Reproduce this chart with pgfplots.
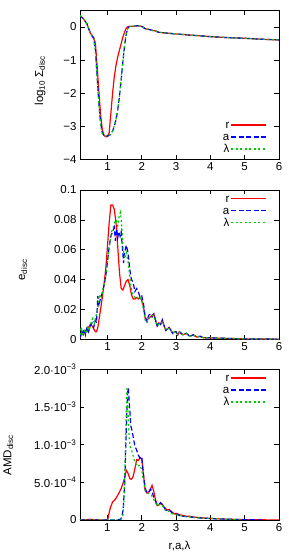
\documentclass[border=0pt]{standalone}
\usepackage{fontspec}
\setmainfont{Liberation Sans}
\usepackage{pgfplots}
\pgfplotsset{compat=1.18}
\definecolor{cr}{RGB}{255,0,0}
\definecolor{cb}{RGB}{0,0,255}
\definecolor{cg}{RGB}{0,205,0}
\pgfplotsset{
  myax/.style={
    scale only axis, width=199pt, xmin=0.2, xmax=6, xtick={1,2,3,4,5,6},
    tick align=inside, major tick length=4.5pt,
    axis line style={line width=0.6pt},
    every tick/.style={black, line width=0.6pt},
    tick label style={font=\fontsize{11.5}{13}\selectfont},
    label style={font=\fontsize{11.5}{13}\selectfont},
    /pgf/number format/assume math mode=true,
    legend style={draw=none, fill=none, font=\fontsize{11.5}{13}\selectfont,
      legend cell align=right, row sep=0pt, inner sep=1pt,
      nodes={text height=8.5pt, text depth=1.5pt, inner sep=1pt}},
    legend plot pos=right,
    legend image post style={xscale=2.05, line width=1.5pt},
  },
}
\begin{document}
\begin{tikzpicture}
\useasboundingbox (0pt,0pt) rectangle (289pt,560pt);
% ---------------- top panel
\begin{axis}[myax, at={(80pt,400.7pt)}, anchor=south west, height=148.8pt,
  ymin=-4, ymax=0.5, ytick={-4,-3,-2,-1,0},
  yticklabels={−4,−3,−2,−1,0},
  ylabel={log\textsubscript{10} Σ\textsubscript{disc}},
  ylabel style={at={(axis description cs:-0.2,0.53)}, anchor=center},
  legend style={at={(axis description cs:0.945,0.02)}, anchor=south east}]
\addplot[color=cr, line width=1.2pt] coordinates {(0.2,0.35)(0.3,0.25)(0.4,0.1)(0.5,-0.18)(0.6,-0.32)(0.65,-0.5)(0.7,-1.2)(0.75,-1.95)(0.8,-2.65)(0.85,-3.1)(0.9,-3.28)(0.95,-3.32)(1.0,-3.31)(1.05,-3.2)(1.1,-2.6)(1.15,-2.0)(1.2,-1.5)(1.25,-1.15)(1.3,-0.9)(1.35,-0.7)(1.4,-0.5)(1.45,-0.3)(1.5,-0.15)(1.55,-0.03)(1.6,0.02)(1.7,0.02)(1.8,0.03)(1.9,0.04)(2.0,0.02)(2.1,-0.05)(2.2,-0.07)(2.3,-0.1)(2.4,-0.12)(2.5,-0.16)(2.7,-0.18)(3,-0.21)(3.5,-0.25)(4,-0.29)(4.5,-0.32)(5,-0.34)(5.5,-0.37)(6,-0.39)};
\addplot[color=cb, line width=1.2pt, dash pattern=on 5pt off 2.5pt] coordinates {(0.2,0.35)(0.3,0.25)(0.4,0.1)(0.5,-0.18)(0.6,-0.35)(0.65,-0.7)(0.7,-1.5)(0.75,-2.3)(0.8,-2.9)(0.85,-3.2)(0.9,-3.28)(1.0,-3.3)(1.1,-3.25)(1.15,-3.15)(1.2,-3.0)(1.25,-2.8)(1.3,-2.5)(1.35,-2.1)(1.4,-1.6)(1.45,-1.05)(1.5,-0.55)(1.55,-0.2)(1.6,-0.02)(1.65,0.02)(1.7,0.02)(1.8,0.03)(1.9,0.04)(2.0,0.02)(2.1,-0.05)(2.2,-0.07)(2.3,-0.1)(2.4,-0.12)(2.5,-0.16)(2.7,-0.18)(3,-0.21)(3.5,-0.25)(4,-0.29)(4.5,-0.32)(5,-0.34)(5.5,-0.37)(6,-0.39)};
\addplot[color=cg, line width=1.2pt, dash pattern=on 2pt off 2.5pt] coordinates {(0.2,0.35)(0.3,0.25)(0.4,0.1)(0.5,-0.18)(0.6,-0.35)(0.65,-0.75)(0.7,-1.55)(0.75,-2.35)(0.8,-2.95)(0.85,-3.22)(0.9,-3.29)(1.0,-3.3)(1.1,-3.24)(1.15,-3.14)(1.2,-2.98)(1.25,-2.78)(1.3,-2.48)(1.35,-2.08)(1.4,-1.58)(1.45,-1.03)(1.5,-0.53)(1.55,-0.19)(1.6,-0.02)(1.65,0.02)(1.7,0.02)(1.8,0.03)(1.9,0.04)(2.0,0.02)(2.1,-0.05)(2.2,-0.07)(2.3,-0.1)(2.4,-0.12)(2.5,-0.16)(2.7,-0.18)(3,-0.21)(3.5,-0.25)(4,-0.29)(4.5,-0.32)(5,-0.34)(5.5,-0.37)(6,-0.39)};
\legend{r,a,λ}
\end{axis}
% ---------------- middle panel
\begin{axis}[myax, at={(80pt,220.7pt)}, anchor=south west, height=149.3pt,
  ymin=0, ymax=0.1, ytick={0,0.02,0.04,0.06,0.08,0.1},
  yticklabels={0,0.02,0.04,0.06,0.08,0.1},
  ylabel={e\textsubscript{disc}},
  ylabel style={at={(axis description cs:-0.286,0.465)}, anchor=center},
  legend style={at={(axis description cs:0.945,0.99)}, anchor=north east}]
\addplot[color=cr, line width=1.2pt] coordinates {(0.2,0.001)(0.25,0.004)(0.3,0.003)(0.35,0.006)(0.4,0.005)(0.45,0.008)(0.5,0.010)(0.55,0.009)(0.6,0.007)(0.65,0.005)(0.68,0.005)(0.72,0.008)(0.76,0.014)(0.8,0.020)(0.85,0.028)(0.9,0.037)(0.95,0.047)(1.0,0.062)(1.05,0.078)(1.1,0.090)(1.15,0.090)(1.2,0.087)(1.25,0.078)(1.3,0.062)(1.35,0.045)(1.4,0.034)(1.45,0.033)(1.5,0.036)(1.55,0.039)(1.6,0.040)(1.65,0.036)(1.7,0.030)(1.75,0.027)(1.8,0.027)(1.85,0.028)(1.9,0.027)(1.95,0.028)(2.0,0.026)(2.05,0.022)(2.1,0.014)(2.15,0.013)(2.2,0.014)(2.25,0.015)(2.3,0.016)(2.35,0.017)(2.4,0.013)(2.45,0.009)(2.5,0.011)(2.55,0.010)(2.6,0.013)(2.65,0.009)(2.7,0.006)(2.75,0.007)(2.8,0.008)(2.85,0.006)(2.9,0.004)(2.95,0.005)(3.0,0.005)(3.05,0.003)(3.1,0.005)(3.15,0.004)(3.2,0.003)(3.3,0.004)(3.4,0.002)(3.5,0.003)(3.6,0.0015)(3.7,0.002)(3.8,0.001)(4.0,0.001)(4.2,0.0008)(4.5,0.0006)(5,0.0003)(5.5,0.0002)(6,0.0001)};
\addplot[color=cb, line width=1.2pt, dash pattern=on 5pt off 2.5pt] coordinates {(0.2,0.001)(0.25,0.006)(0.28,0.002)(0.32,0.007)(0.36,0.003)(0.4,0.008)(0.45,0.005)(0.5,0.009)(0.55,0.011)(0.6,0.008)(0.65,0.013)(0.68,0.011)(0.72,0.029)(0.75,0.022)(0.8,0.028)(0.85,0.031)(0.9,0.036)(0.95,0.042)(1.0,0.052)(1.05,0.062)(1.1,0.069)(1.15,0.072)(1.2,0.075)(1.23,0.066)(1.27,0.074)(1.3,0.068)(1.33,0.072)(1.37,0.069)(1.4,0.072)(1.43,0.063)(1.47,0.051)(1.5,0.058)(1.55,0.063)(1.6,0.058)(1.65,0.047)(1.7,0.040)(1.75,0.038)(1.8,0.032)(1.85,0.034)(1.9,0.032)(1.95,0.028)(2.0,0.029)(2.05,0.024)(2.1,0.015)(2.15,0.012)(2.2,0.016)(2.25,0.017)(2.3,0.015)(2.35,0.017)(2.4,0.013)(2.45,0.009)(2.5,0.011)(2.55,0.010)(2.6,0.013)(2.65,0.009)(2.7,0.006)(2.75,0.007)(2.8,0.008)(2.85,0.006)(2.9,0.004)(2.95,0.005)(3.0,0.005)(3.05,0.003)(3.1,0.005)(3.15,0.004)(3.2,0.003)(3.3,0.004)(3.4,0.002)(3.5,0.003)(3.6,0.0015)(3.7,0.002)(3.8,0.001)(4.0,0.001)(4.2,0.0008)(4.5,0.0006)(5,0.0003)(5.5,0.0002)(6,0.0001)};
\addplot[color=cg, line width=1.2pt, dash pattern=on 2pt off 2.5pt] coordinates {(0.2,0.003)(0.23,0.008)(0.27,0.002)(0.32,0.006)(0.37,0.004)(0.42,0.009)(0.47,0.006)(0.52,0.011)(0.57,0.014)(0.62,0.011)(0.67,0.016)(0.72,0.022)(0.77,0.030)(0.82,0.027)(0.87,0.034)(0.92,0.038)(0.97,0.045)(1.02,0.055)(1.07,0.065)(1.12,0.072)(1.17,0.075)(1.22,0.079)(1.26,0.080)(1.3,0.076)(1.34,0.082)(1.38,0.085)(1.42,0.075)(1.46,0.060)(1.5,0.054)(1.55,0.058)(1.6,0.052)(1.65,0.042)(1.7,0.033)(1.75,0.030)(1.8,0.028)(1.85,0.029)(1.9,0.027)(1.95,0.028)(2.0,0.026)(2.05,0.020)(2.1,0.013)(2.15,0.011)(2.2,0.014)(2.3,0.016)(2.35,0.016)(2.4,0.012)(2.45,0.009)(2.5,0.010)(2.55,0.010)(2.6,0.012)(2.65,0.009)(2.7,0.006)(2.75,0.007)(2.8,0.007)(2.85,0.006)(2.9,0.004)(2.95,0.005)(3.0,0.005)(3.05,0.003)(3.1,0.005)(3.15,0.004)(3.2,0.003)(3.3,0.004)(3.4,0.002)(3.5,0.003)(3.6,0.0015)(3.7,0.002)(3.8,0.001)(4.0,0.001)(4.2,0.0008)(4.5,0.0006)(5,0.0003)(5.5,0.0002)(6,0.0001)};
\legend{r,a,λ}
\end{axis}
% ---------------- bottom panel
\begin{axis}[myax, at={(80pt,40pt)}, anchor=south west, height=150.7pt,
  ymin=0, ymax=0.002, ytick={0,0.0005,0.001,0.0015,0.002}, scaled y ticks=false,
  yticklabels={0,5.0·10\textsuperscript{−4},1.0·10\textsuperscript{−3},1.5·10\textsuperscript{−3},2.0·10\textsuperscript{−3}},
  ylabel={AMD\textsubscript{disc}},
  ylabel style={at={(axis description cs:-0.36,0.43)}, anchor=center},
  xlabel={r,a,λ},
  xlabel style={at={(axis description cs:0.5,0)}, anchor=north, yshift=-18pt},
  legend style={at={(axis description cs:0.945,0.99)}, anchor=north east}]
\addplot[color=cr, line width=1.2pt] coordinates {(0.2,0)(0.4,0.000005)(0.5,0.00001)(0.6,0.000005)(0.8,0)(1.0,0)(1.02,0.00003)(1.06,0.00012)(1.1,0.00018)(1.15,0.00024)(1.2,0.00026)(1.25,0.00029)(1.3,0.00033)(1.35,0.00037)(1.4,0.00042)(1.45,0.00048)(1.5,0.00056)(1.55,0.00066)(1.6,0.00062)(1.65,0.00055)(1.7,0.00054)(1.75,0.00058)(1.8,0.00068)(1.85,0.00080)(1.9,0.00079)(1.95,0.00083)(2.0,0.00081)(2.05,0.00060)(2.1,0.00039)(2.15,0.00036)(2.2,0.00037)(2.25,0.00040)(2.3,0.00046)(2.35,0.00038)(2.4,0.00027)(2.45,0.00019)(2.5,0.00020)(2.55,0.00022)(2.6,0.00021)(2.65,0.00017)(2.7,0.00015)(2.75,0.00013)(2.8,0.00014)(2.85,0.00012)(2.9,0.00010)(2.95,0.00008)(3.0,0.00009)(3.05,0.00008)(3.1,0.00007)(3.2,0.00006)(3.3,0.00005)(3.4,0.00005)(3.5,0.00004)(3.7,0.00003)(4.0,0.00002)(4.5,0.00001)(5,0.000005)(6,0)};
\addplot[color=cb, line width=1.2pt, dash pattern=on 5pt off 2.5pt] coordinates {(0.2,0)(1.3,0)(1.38,0.00001)(1.42,0.00004)(1.46,0.00015)(1.5,0.00045)(1.53,0.0009)(1.56,0.00135)(1.59,0.0017)(1.61,0.00175)(1.63,0.0016)(1.66,0.0014)(1.68,0.00125)(1.72,0.00118)(1.76,0.00108)(1.8,0.00098)(1.85,0.00093)(1.9,0.00086)(1.95,0.00082)(2.0,0.00084)(2.05,0.0006)(2.1,0.00042)(2.15,0.00037)(2.2,0.00036)(2.25,0.00041)(2.3,0.00038)(2.35,0.0003)(2.4,0.00025)(2.45,0.0002)(2.5,0.00021)(2.55,0.00023)(2.6,0.0002)(2.65,0.00017)(2.7,0.00013)(2.75,0.00012)(2.8,0.00013)(2.85,0.00011)(2.9,0.00009)(3.0,0.00008)(3.1,0.00006)(3.2,0.00005)(3.4,0.00004)(3.6,0.00003)(4.0,0.00002)(4.5,0.00001)(5,0.000005)(5.5,0)};
\addplot[color=cg, line width=1.2pt, dash pattern=on 2pt off 2.5pt] coordinates {(0.2,0)(1.3,0)(1.4,0.00001)(1.45,0.00006)(1.48,0.00025)(1.51,0.0007)(1.54,0.0013)(1.57,0.00177)(1.59,0.0016)(1.61,0.0013)(1.63,0.0011)(1.66,0.00098)(1.7,0.00093)(1.75,0.00085)(1.8,0.00077)(1.87,0.00071)(1.95,0.00073)(2.0,0.00066)(2.05,0.00052)(2.1,0.00039)(2.15,0.00036)(2.2,0.00035)(2.28,0.00033)(2.35,0.00027)(2.4,0.00023)(2.45,0.00019)(2.5,0.0002)(2.55,0.00021)(2.6,0.00019)(2.65,0.00016)(2.7,0.00012)(2.75,0.00011)(2.8,0.00012)(2.85,0.0001)(2.9,0.00008)(3.0,0.00007)(3.1,0.00006)(3.2,0.00005)(3.4,0.00004)(3.6,0.00003)(4.0,0.00002)(4.5,0.00001)(4.9,0.000005)};
\legend{r,a,λ}
\end{axis}
\end{tikzpicture}
\end{document}
